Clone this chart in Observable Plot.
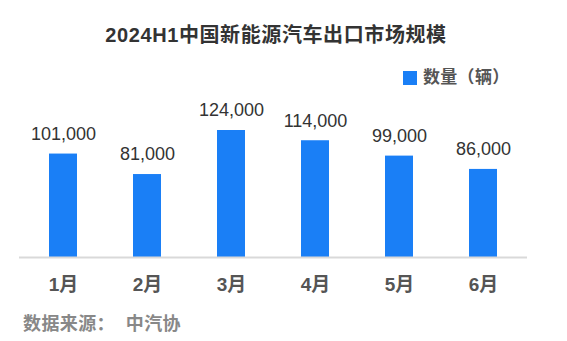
<!DOCTYPE html>
<html>
<head>
<meta charset="utf-8">
<script src="https://cdn.jsdelivr.net/npm/d3@7"></script>
<script src="https://cdn.jsdelivr.net/npm/@observablehq/plot@0.6"></script>
<style>
  html, body { margin: 0; padding: 0; background: #fff; }
  #wrap { position: relative; width: 567px; height: 341px; overflow: hidden;
    font-family: "Liberation Sans", Arial, "Noto Sans CJK SC", sans-serif; }
  #wrap svg { position: absolute; left: 0; top: 0; }
  .title { position: absolute; left: 0; width: 552px; top: 22px; text-align: center;
    font-size: 20px; font-weight: bold; color: #333; line-height: 26px; white-space: nowrap; letter-spacing: 0.6px; }
  .legend { position: absolute; left: 403px; top: 68px; display: flex; align-items: center;
    font-size: 17px; font-weight: bold; color: #555; line-height: 20px; white-space: nowrap; letter-spacing: 0.3px; }
  .legend .sw { width: 14px; height: 14px; background: #1a7ff6; margin-right: 6px; }
  .source { position: absolute; left: 23px; top: 313px; font-size: 18px; font-weight: bold;
    color: #888; line-height: 22px; white-space: nowrap; letter-spacing: 0.4px; }
</style>
</head>
<body>
<div id="wrap">
  <div class="title">2024H1中国新能源汽车出口市场规模</div>
  <div class="legend"><span class="sw"></span><span>数量（辆）</span></div>
  <div class="source">数据来源：&nbsp;&nbsp;中汽协</div>
</div>
<script>
const months = ["1月", "2月", "3月", "4月", "5月", "6月"];
const values = [101000, 81000, 124000, 114000, 99000, 86000];
const seriesName = "数量（辆）";

const data = months.map((m, i) => ({ month: m, value: values[i] }));

const chart = Plot.plot({
  width: 567,
  height: 341,
  marginTop: 130,
  marginBottom: 84,
  marginLeft: 19,
  marginRight: 40,
  style: { fontFamily: "'Liberation Sans', Arial, 'Noto Sans CJK SC', sans-serif", background: "transparent" },
  x: { domain: months, paddingInner: 0.664, paddingOuter: 0.332 },
  y: { domain: [0, 124000], axis: null },
  marks: [
    Plot.barY(data, { x: "month", y: "value", fill: "#1a7ff6" }),
    Plot.ruleY([0], { stroke: "#d9d9d9", strokeWidth: 2 }),
    Plot.text(data, { x: "month", y: "value", text: d => d3.format(",")(d.value),
      dy: -20, fontSize: 18, fill: "#333" }),
    Plot.axisX({ tickSize: 0, tickPadding: 20, fontSize: 19, fontWeight: "bold", fill: "#555", label: null })
  ]
});
document.getElementById("wrap").appendChild(chart);
</script>
</body>
</html>
